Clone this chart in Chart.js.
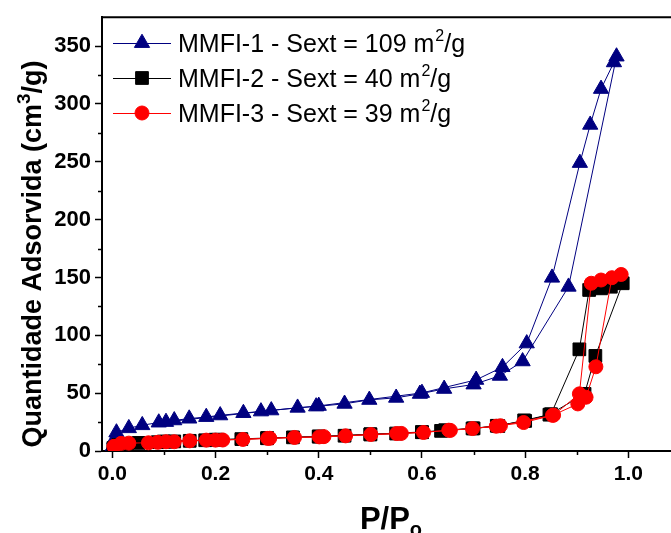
<!DOCTYPE html>
<html>
<head>
<meta charset="utf-8">
<script src="https://cdn.jsdelivr.net/npm/chart.js"></script>
<style>
  html, body { margin: 0; padding: 0; background: #fff; overflow: hidden; }
  canvas { display: block; }
</style>
</head>
<body>
<canvas id="isotherm" width="690" height="533"></canvas>
<script>
// axis ticks
const xTicks = [0, 0.2, 0.4, 0.6, 0.8, 1.0];
const xMinorTicks = [0.1, 0.3, 0.5, 0.7, 0.9];
const yTicks = [0, 50, 100, 150, 200, 250, 300, 350];
const yMinorTicks = [25, 75, 125, 175, 225, 275, 325];

// MMFI-1 (adsorption then desorption branch)
const p1Ads = [0.001, 0.004, 0.008, 0.032, 0.058, 0.090, 0.120, 0.149, 0.182, 0.209, 0.254, 0.288, 0.359, 0.395, 0.450, 0.498, 0.550, 0.596, 0.643, 0.700, 0.751, 0.795, 0.884, 0.977];
const v1Ads = [4, 10, 16, 19.7, 22.3, 24.6, 26.5, 28.0, 29.4, 30.8, 32.8, 34.2, 37.4, 38.5, 40.8, 44.2, 46.0, 49.4, 53.7, 57.5, 65.0, 77.5, 142, 341];
const p1Des = [0.972, 0.947, 0.926, 0.906, 0.852, 0.803, 0.756, 0.705, 0.600, 0.400, 0.308, 0.104];
const v1Des = [336, 313, 282, 249, 149.8, 93, 72.5, 61.5, 50.2, 39.0, 35.1, 25.1];

// MMFI-2
const p2Ads = [0.002, 0.012, 0.028, 0.051, 0.088, 0.104, 0.120, 0.150, 0.180, 0.205, 0.250, 0.300, 0.350, 0.400, 0.450, 0.500, 0.550, 0.600, 0.637, 0.698, 0.748, 0.798, 0.847, 0.915, 0.936, 0.989];
const v2Ads = [2.5, 5.2, 6.2, 7.0, 7.6, 8.0, 8.3, 8.8, 9.3, 9.7, 10.3, 11.0, 11.8, 12.4, 13.2, 14.3, 15.1, 16.2, 17.4, 19.5, 21.6, 26.5, 31.4, 49.4, 82.2, 145];
const p2Des = [0.966, 0.947, 0.924, 0.905, 0.850, 0.800, 0.745, 0.700, 0.645, 0.600, 0.500, 0.400, 0.300, 0.200, 0.100];
const v2Des = [142, 140.6, 139.2, 87.9, 31.8, 26.0, 21.8, 19.6, 18.0, 16.4, 14.5, 12.6, 11.2, 9.8, 8.2];

// MMFI-3
const p3Ads = [0.003, 0.017, 0.032, 0.070, 0.088, 0.120, 0.150, 0.182, 0.214, 0.253, 0.301, 0.353, 0.401, 0.452, 0.501, 0.551, 0.603, 0.652, 0.698, 0.744, 0.797, 0.853, 0.902, 0.918, 0.937, 0.968, 0.986];
const v3Ads = [4.0, 6.6, 6.8, 7.1, 7.5, 8.0, 8.8, 9.4, 9.5, 10.0, 10.9, 11.7, 12.2, 13.1, 14.3, 15.1, 16.0, 18.0, 19.4, 21.4, 24.6, 30.8, 40.7, 46.5, 72.8, 149.8, 152.6];
const p3Des = [0.947, 0.928, 0.905, 0.855, 0.752, 0.655, 0.560, 0.410, 0.305, 0.200, 0.104];
const v3Des = [147.8, 145, 49.4, 31.0, 21.8, 17.8, 15.2, 12.4, 11.0, 9.4, 8.0];

const seriesNames = ["MMFI-1 - Sext = 109 m", "MMFI-2 - Sext = 40 m", "MMFI-3 - Sext = 39 m"];
const seriesColors = ["#000080", "#000000", "#ff0000"];
const seriesStyles = ["triangle", "rect", "circle"];
const seriesRadius = [8.8, 9, 7];

const FONT = "'Liberation Sans', Arial, sans-serif";

function toPoints(px, py) {
  return px.map((p, i) => ({ x: p, y: py[i] }));
}

const branches = [
  toPoints(p1Ads, v1Ads).concat(toPoints(p1Des, v1Des)),
  toPoints(p2Ads, v2Ads).concat(toPoints(p2Des, v2Des)),
  toPoints(p3Ads, v3Ads).concat(toPoints(p3Des, v3Des)),
];

// frame top line, minor ticks, axis titles, legend
const extrasPlugin = {
  id: "extras",
  afterDraw(chart) {
    const { ctx, chartArea, scales } = chart;
    const { left, right, top, bottom } = chartArea;
    ctx.save();
    ctx.strokeStyle = "#000";
    ctx.lineWidth = 2;
    ctx.beginPath();
    ctx.moveTo(left - 1, top);
    ctx.lineTo(right, top);
    ctx.stroke();

    ctx.lineWidth = 1.5;
    ctx.beginPath();
    xMinorTicks.forEach((v) => {
      const px = Math.round(scales.x.getPixelForValue(v)) + 0.5;
      ctx.moveTo(px, bottom);
      ctx.lineTo(px, bottom + 4);
    });
    yMinorTicks.forEach((v) => {
      const py = Math.round(scales.y.getPixelForValue(v)) + 0.5;
      ctx.moveTo(left, py);
      ctx.lineTo(left - 4, py);
    });
    ctx.stroke();

    ctx.fillStyle = "#000";
    ctx.textBaseline = "alphabetic";
    ctx.textAlign = "left";

    // y title
    ctx.save();
    ctx.translate(41, 254);
    ctx.rotate(-Math.PI / 2);
    ctx.font = "bold 27px " + FONT;
    const yMain = "Quantidade Adsorvida (cm";
    const yTail = "/g)";
    const w1 = ctx.measureText(yMain).width;
    const w3 = ctx.measureText(yTail).width;
    ctx.font = "bold 19px " + FONT;
    const w2 = ctx.measureText("3").width;
    let sx = -(w1 + w2 + w3) / 2;
    ctx.font = "bold 27px " + FONT;
    ctx.fillText(yMain, sx, 0);
    ctx.font = "bold 19px " + FONT;
    ctx.fillText("3", sx + w1, -11);
    ctx.font = "bold 27px " + FONT;
    ctx.fillText(yTail, sx + w1 + w2, 0);
    ctx.restore();

    // x title
    ctx.font = "bold 31px " + FONT;
    const xw1 = ctx.measureText("P/P").width;
    ctx.font = "bold 20px " + FONT;
    const xw2 = ctx.measureText("o").width;
    const xs = (left + right) / 2 - (xw1 + xw2) / 2;
    ctx.font = "bold 31px " + FONT;
    ctx.fillText("P/P", xs, 529);
    ctx.font = "bold 20px " + FONT;
    ctx.fillText("o", xs + xw1, 536);

    // legend
    seriesNames.forEach((name, i) => {
      const y = 43 + i * 35;
      ctx.strokeStyle = seriesColors[i];
      ctx.fillStyle = seriesColors[i];
      ctx.lineWidth = 1;
      ctx.beginPath();
      ctx.moveTo(113, y + 0.5);
      ctx.lineTo(171, y + 0.5);
      ctx.stroke();
      Chart.helpers.drawPoint(ctx, {
        pointStyle: seriesStyles[i],
        radius: seriesRadius[i],
        rotation: 0,
        borderWidth: 1,
      }, 142, y);
      ctx.fillStyle = "#000";
      ctx.font = "25px " + FONT;
      const base = y + 9;
      ctx.fillText(name, 178, base);
      const nw = ctx.measureText(name).width;
      ctx.font = "16px " + FONT;
      ctx.fillText("2", 178 + nw + 1, base - 11);
      const sw = ctx.measureText("2").width;
      ctx.font = "25px " + FONT;
      ctx.fillText("/g", 178 + nw + sw + 1, base);
    });
    ctx.restore();
  },
};

new Chart(document.getElementById("isotherm"), {
  type: "line",
  data: {
    datasets: branches.map((pts, i) => ({
      label: seriesNames[i],
      data: pts,
      borderColor: seriesColors[i],
      backgroundColor: seriesColors[i],
      pointBackgroundColor: seriesColors[i],
      pointBorderColor: seriesColors[i],
      pointStyle: seriesStyles[i],
      pointRadius: seriesRadius[i],
      pointBorderWidth: 1,
      borderWidth: 1,
      tension: 0,
      fill: false,
      order: 2 - i,
    })),
  },
  options: {
    responsive: false,
    animation: false,
    layout: { padding: { top: 14, right: 9, left: 0, bottom: 0 } },
    plugins: {
      legend: { display: false },
      tooltip: { enabled: false },
    },
    scales: {
      x: {
        type: "linear",
        min: -0.02,
        max: 1.1,
        afterBuildTicks: (scale) => {
          scale.ticks = xTicks.map((v) => ({ value: v }));
        },
        afterFit: (scale) => {
          scale.height = 82;
        },
        ticks: {
          color: "#000",
          font: { family: FONT, size: 21, weight: "bold" },
          padding: 4,
          maxRotation: 0,
          callback: (v) => Number(v).toFixed(1),
        },
        grid: {
          drawOnChartArea: false,
          drawTicks: true,
          tickLength: 7,
          tickColor: "#000",
          tickWidth: 1.5,
        },
        border: { display: true, color: "#000", width: 2 },
      },
      y: {
        min: 0,
        max: 375,
        afterBuildTicks: (scale) => {
          scale.ticks = yTicks.map((v) => ({ value: v }));
        },
        afterFit: (scale) => {
          scale.width = 102;
        },
        ticks: {
          color: "#000",
          font: { family: FONT, size: 22, weight: "bold" },
          padding: 4,
        },
        grid: {
          drawOnChartArea: false,
          drawTicks: true,
          tickLength: 7,
          tickColor: "#000",
          tickWidth: 1.5,
        },
        border: { display: true, color: "#000", width: 2 },
      },
    },
  },
  plugins: [extrasPlugin],
});
</script>
</body>
</html>
